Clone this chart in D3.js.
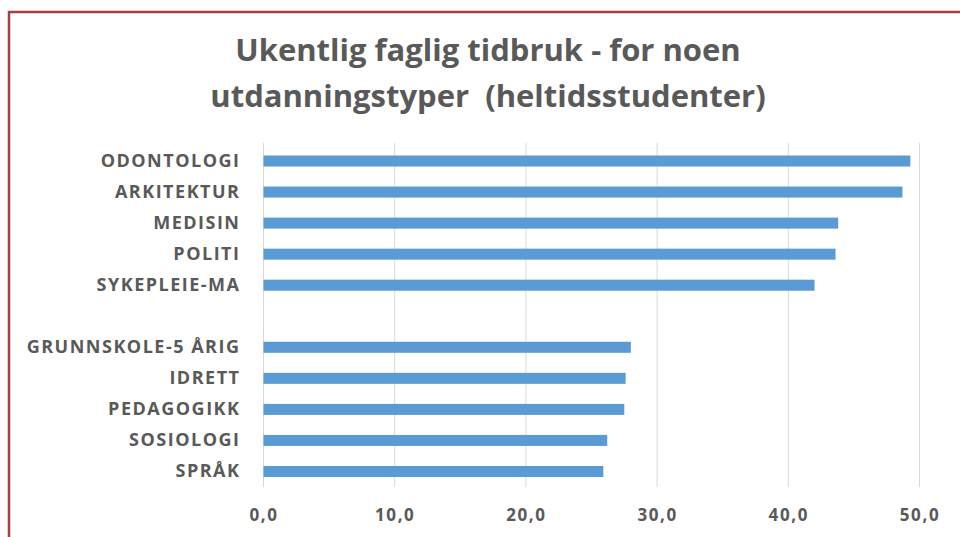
<!DOCTYPE html>
<html>
<head>
<meta charset="utf-8">
<script src="https://cdn.jsdelivr.net/npm/d3@7"></script>
<style>
    body { margin: 0; background: #fff; }
    svg { display: block; }
</style>
</head>
<body>
<div id="chart"></div>
<script>
// chart data (empty entry = gap between the two groups)
const categories = ["ODONTOLOGI", "ARKITEKTUR", "MEDISIN", "POLITI", "SYKEPLEIE-MA", "",
    "GRUNNSKOLE-5 ÅRIG", "IDRETT", "PEDAGOGIKK", "SOSIOLOGI", "SPRÅK"];
const hours = [49.3, 48.7, 43.8, 43.6, 42.0, null, 28.0, 27.6, 27.5, 26.2, 25.9];
const tickValues = [0, 10, 20, 30, 40, 50];
const titleLines = ["Ukentlig faglig tidbruk - for noen", "utdanningstyper  (heltidsstudenter)"];

const width = 960, height = 537;
const font = "'Open Sans', 'DejaVu Sans', sans-serif";
const textColor = "#595959";

const svg = d3.select("#chart").append("svg")
    .attr("width", width)
    .attr("height", height);

// outer frame (runs past the right and bottom edge in the original)
svg.append("rect")
    .attr("x", 9)
    .attr("y", 12)
    .attr("width", width + 20)
    .attr("height", height + 20)
    .attr("fill", "none")
    .attr("stroke", "#a5403f")
    .attr("stroke-width", 2.5);

// title
svg.append("g")
    .selectAll("text")
    .data(titleLines)
    .enter().append("text")
    .attr("x", 488)
    .attr("y", (d, i) => 61 + i * 46)
    .attr("text-anchor", "middle")
    .style("white-space", "pre")
    .style("font-family", font)
    .style("font-weight", "bold")
    .style("font-size", "31px")
    .style("fill", textColor)
    .text(d => d);

const x = d3.scaleLinear()
    .domain([0, 50])
    .range([263.5, 919.5]);

const y = d3.scaleBand()
    .domain(categories)
    .range([145.5, 487])
    .paddingInner(0.645)
    .paddingOuter(0.3225);

// gridlines
svg.append("g")
    .selectAll("line")
    .data(tickValues)
    .enter().append("line")
    .attr("x1", d => x(d))
    .attr("x2", d => x(d))
    .attr("y1", 143)
    .attr("y2", 487)
    .attr("stroke", "#d9d9d9")
    .attr("stroke-width", 1);

// bars
const rows = categories.map((c, i) => ({ name: c, value: hours[i] }));
svg.append("g")
    .selectAll("rect")
    .data(rows.filter(d => d.value != null))
    .enter().append("rect")
    .attr("x", x(0))
    .attr("y", d => y(d.name))
    .attr("width", d => x(d.value) - x(0))
    .attr("height", y.bandwidth())
    .attr("fill", "#5b9bd5");

// category labels
const yAxis = svg.append("g")
    .attr("transform", `translate(${x(0)},0)`)
    .call(d3.axisLeft(y).tickSize(0).tickPadding(23));
yAxis.select(".domain").remove();
yAxis.selectAll("text")
    .style("font-family", font)
    .style("font-weight", "bold")
    .style("font-size", "18px")
    .style("letter-spacing", "1.5px")
    .style("fill", textColor);

// value axis labels
const xAxis = svg.append("g")
    .attr("transform", "translate(0,487)")
    .call(d3.axisBottom(x)
        .tickValues(tickValues)
        .tickSize(0)
        .tickPadding(22)
        .tickFormat(d => d3.format(".1f")(d).replace(".", ",")));
xAxis.select(".domain").remove();
xAxis.selectAll("text")
    .style("font-family", font)
    .style("font-weight", "bold")
    .style("font-size", "17px")
    .style("letter-spacing", "1.6px")
    .style("fill", textColor);
</script>
</body>
</html>
